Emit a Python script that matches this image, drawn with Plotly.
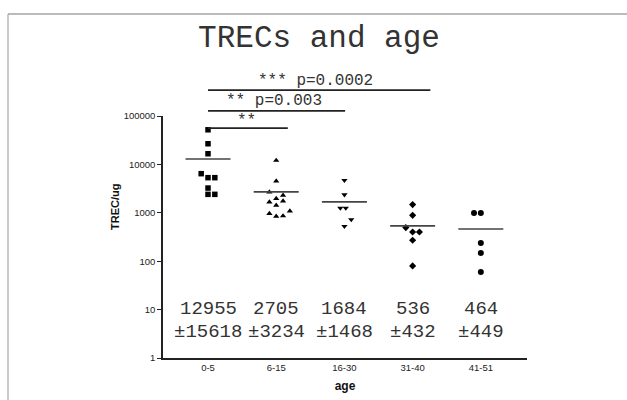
import plotly.graph_objects as go

# ---- data ----
groups = ["0-5", "6-15", "16-30", "31-40", "41-51"]
vals_0_5 = [51900, 26700, 16600, 6430, 5320, 5320, 3246, 2406, 2406]
jit_0_5 = [0, 0, 0, -0.1, 0, 0.1, 0, 0, 0.1]
vals_6_15 = [12080, 4530, 2685, 1963, 2295, 1670, 1428, 1751, 1089, 963, 847, 859]
jit_6_15 = [0, 0, -0.1, 0, 0.1, -0.1, 0, 0.1, 0.2, -0.1, 0, 0.1]
vals_16_30 = [4677, 2373, 1256, 1256, 724, 527]
jit_16_30 = [0, 0, -0.06, 0.02, 0.1, 0]
vals_31_40 = [1476, 888, 495, 402, 402, 271, 80]
jit_31_40 = [0, 0, -0.1, 0, 0.1, 0, 0]
vals_41_51 = [991, 991, 238, 148, 60]
jit_41_51 = [-0.1, 0, 0, 0, 0]
means = [12955, 2705, 1684, 536, 464]
sds = [15618, 3234, 1468, 432, 449]
symbols = ["square", "triangle-up", "triangle-down", "diamond", "circle"]

# significance comparisons: (x start, x end, label, label x)
sig_x0 = [0, 0, 0]
sig_x1 = [3.26, 2.01, 1.17]
sig_labels = ["*** p=0.0002", "** p=0.003", "**"]
sig_label_x = [1.57, 0.97, 0.57]
sig_line_y = [1.107, 1.021, 0.950]
sig_text_y = [1.145, 1.062, 0.979]

yticks = [1, 10, 100, 1000, 10000, 100000]
ytick_text = ["1", "10", "100", "1000", "10000", "100000"]

all_vals = [vals_0_5, vals_6_15, vals_16_30, vals_31_40, vals_41_51]
all_jit = [jit_0_5, jit_6_15, jit_16_30, jit_31_40, jit_41_51]

mono = "Courier New, Liberation Mono, monospace"
sans = "Arial, Liberation Sans, sans-serif"

fig = go.Figure()
for i, (v, j) in enumerate(zip(all_vals, all_jit)):
    fig.add_trace(go.Scatter(
        x=[i + d for d in j], y=v, mode="markers",
        marker=dict(symbol=symbols[i], size=5.5 if symbols[i] != "circle" else 6,
                    color="black", line=dict(width=0)),
        showlegend=False, hoverinfo="y"))

# mean lines
mx, my = [], []
for i, m in enumerate(means):
    mx += [i - 0.33, i + 0.33, None]
    my += [m, m, None]
fig.add_trace(go.Scatter(x=mx, y=my, mode="lines",
                         line=dict(color="#444", width=1.6),
                         showlegend=False, hoverinfo="skip"))

shapes = []
annotations = []
for x0, x1, lab, lx, ly, ty in zip(sig_x0, sig_x1, sig_labels, sig_label_x, sig_line_y, sig_text_y):
    shapes.append(dict(type="line", xref="x", yref="paper", x0=x0, x1=x1, y0=ly, y1=ly,
                       line=dict(color="#222", width=1.8)))
    annotations.append(dict(xref="x", yref="paper", x=lx, y=ty, text=lab, showarrow=False,
                            font=dict(family=mono, size=16, color="#333"),
                            xanchor="center", yanchor="middle"))

# mean ± SD text
for i, (m, s) in enumerate(zip(means, sds)):
    annotations.append(dict(xref="x", yref="y", x=i, y=1.01, text=str(m), showarrow=False,
                            font=dict(family=mono, size=19, color="#333"),
                            xanchor="center", yanchor="middle"))
    annotations.append(dict(xref="x", yref="y", x=i, y=0.54, text="±" + str(s), showarrow=False,
                            font=dict(family=mono, size=19, color="#333"),
                            xanchor="center", yanchor="middle"))

# y axis title
annotations.append(dict(xref="paper", yref="paper", x=-0.132, y=0.624, text="<b>TREC/ug</b>",
                        textangle=-90, showarrow=False,
                        font=dict(family=sans, size=11, color="#111"),
                        xanchor="center", yanchor="middle"))

# frame lines
shapes.append(dict(type="line", xref="paper", yref="paper", x0=-0.4258, x1=1.28, y0=1.4215, y1=1.4215,
                   line=dict(color="#777", width=1)))
shapes.append(dict(type="line", xref="paper", yref="paper", x0=-0.4258, x1=-0.4258, y0=1.4215, y1=-0.2,
                   line=dict(color="#999", width=1)))

fig.update_layout(
    width=627, height=400,
    margin=dict(l=163, r=100, t=116, b=42),
    paper_bgcolor="white", plot_bgcolor="white",
    title=dict(text="TRECs and age", x=319 / 627, xanchor="center", y=1 - 36 / 400, yanchor="middle",
               font=dict(family=mono, size=31, color="#333")),
    xaxis=dict(range=[-0.66, 4.677], tickmode="array", tickvals=list(range(5)), ticktext=groups,
               showgrid=False, zeroline=False, showline=True, linecolor="#222", linewidth=1.5,
               ticks="", tickfont=dict(family=sans, size=9.5, color="#222"), automargin=False,
               title=dict(text="<b>age</b>", font=dict(family=sans, size=12, color="#111"), standoff=9)),
    yaxis=dict(type="log", range=[0, 5], tickmode="array", tickvals=yticks, ticktext=ytick_text,
               showgrid=False, zeroline=False, showline=True, linecolor="#222", linewidth=1.5,
               ticks="outside", ticklen=4, tickcolor="#222", automargin=False,
               tickfont=dict(family=sans, size=9.5, color="#222")),
    shapes=shapes, annotations=annotations,
)

fig.write_html("out.html")
